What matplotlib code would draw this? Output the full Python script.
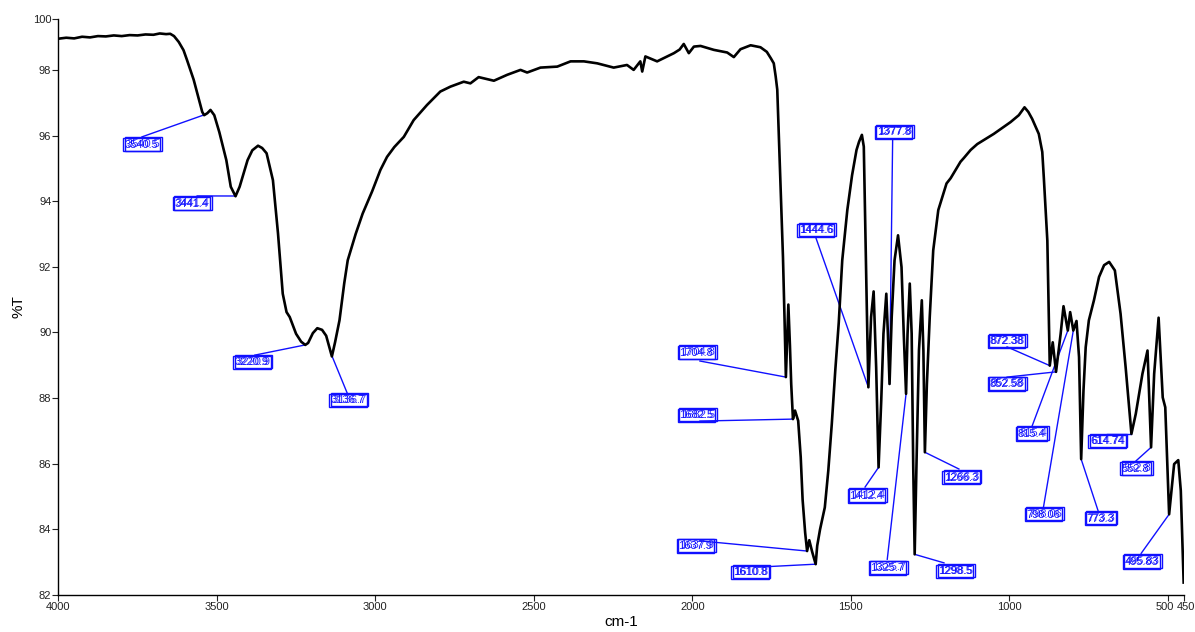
import numpy as np
import matplotlib
matplotlib.use("Agg")
import matplotlib.pyplot as plt
from matplotlib.transforms import offset_copy, ScaledTranslation

plt.rcParams['font.family'] = ['Liberation Sans', 'DejaVu Sans']

# IR spectrum (wavenumber cm-1, %T)
wavenumber = [
    4000, 3975, 3950, 3925, 3900, 3875, 3850, 3825, 3800, 3775, 3750, 3725, 3700,
    3680, 3660, 3647, 3635, 3620, 3605, 3594, 3573, 3555, 3546, 3540, 3530, 3520,
    3508, 3492, 3470, 3456, 3441, 3428, 3403, 3388, 3370, 3357, 3343, 3323, 3307,
    3292, 3280, 3270, 3250, 3234, 3221, 3212, 3197, 3183, 3168, 3155, 3137, 3127,
    3113, 3098, 3087, 3062, 3040, 3010, 2984, 2963, 2940, 2910, 2879, 2837, 2795,
    2763, 2721, 2700, 2674, 2626, 2584, 2542, 2521, 2479, 2426, 2384, 2342, 2300,
    2248, 2206, 2185, 2164, 2158, 2148, 2111, 2058, 2040, 2027, 2011, 1995, 1974,
    1932, 1890, 1869, 1848, 1816, 1785, 1765, 1752, 1743, 1737, 1732, 1727, 1720,
    1714, 1709, 1704.8, 1700, 1697, 1692, 1688, 1682.5, 1676, 1666, 1658, 1652,
    1644, 1637.9, 1631, 1622, 1610.8, 1606, 1597, 1582, 1571, 1560, 1549, 1538,
    1527, 1511, 1496, 1482, 1474, 1465, 1459, 1454, 1450, 1444.6, 1436, 1428,
    1420, 1412.4, 1404, 1397, 1388, 1383, 1377.8, 1371, 1362, 1351, 1340, 1333,
    1325.7, 1321, 1314, 1308, 1303, 1298.5, 1293, 1285, 1276, 1271, 1266.3, 1260,
    1251, 1240, 1224, 1198, 1185, 1154, 1143, 1122, 1101, 1049, 996, 970, 952,
    940, 928, 907, 896, 891, 880, 876, 872.38, 863, 852.58, 838, 829, 815.4, 808,
    798.06, 788, 780, 773.3, 766, 759, 749, 733, 717, 701, 685, 667, 649, 633,
    614.74, 601, 580, 564, 552.8, 543, 529, 516, 508, 495.83, 480, 467, 459, 450,
]
transmittance = [
    98.95, 98.98, 98.96, 99.01, 98.99, 99.03, 99.02, 99.05, 99.03, 99.06, 99.05, 99.08, 99.07,
    99.11, 99.09, 99.10, 99.03, 98.85, 98.60, 98.30, 97.70, 97.05, 96.72, 96.62, 96.68, 96.78,
    96.62, 96.10, 95.25, 94.44, 94.15, 94.44, 95.25, 95.55, 95.69, 95.62, 95.46, 94.64, 93.02,
    91.18, 90.62, 90.47, 89.96, 89.72, 89.62, 89.68, 89.98, 90.13, 90.08, 89.90, 89.27, 89.70,
    90.37, 91.50, 92.20, 93.00, 93.62, 94.30, 94.95, 95.35, 95.65, 95.96, 96.47, 96.93, 97.34,
    97.49, 97.64, 97.59, 97.78, 97.67, 97.85, 98.00, 97.92, 98.07, 98.10, 98.26, 98.26, 98.20,
    98.07, 98.15, 98.00, 98.26, 97.95, 98.41, 98.26, 98.51, 98.62, 98.79, 98.51, 98.71, 98.73,
    98.61, 98.53, 98.39, 98.63, 98.75, 98.69, 98.55, 98.35, 98.20, 97.80, 97.40, 96.00, 94.00,
    92.30, 90.40, 88.64, 90.00, 90.85, 89.60, 88.43, 87.36, 87.62, 87.31, 86.20, 84.90,
    83.90, 83.34, 83.67, 83.32, 82.94, 83.50, 84.00, 84.67, 85.79, 87.21, 88.84, 90.30,
    92.20, 93.73, 94.79, 95.56, 95.81, 96.02, 95.66, 93.00, 91.00, 88.33, 90.47, 91.25,
    88.94, 85.89, 87.92, 89.96, 91.18, 89.96, 88.43, 90.47, 92.20, 92.96, 91.99, 89.96,
    88.13, 89.96, 91.49, 89.96, 85.89, 83.24, 85.89, 89.45, 90.98, 89.45, 86.35, 88.43,
    90.47, 92.50, 93.73, 94.54, 94.70, 95.20, 95.32, 95.56, 95.74, 96.05, 96.41, 96.62, 96.86,
    96.72, 96.51, 96.05, 95.50, 94.70, 92.80, 90.76, 88.99, 89.70, 88.80, 89.96, 90.80, 90.06, 90.62,
    90.06, 90.35, 89.25, 86.14, 88.23, 89.55, 90.37, 90.98, 91.69, 92.05, 92.15, 91.89, 90.57, 88.94,
    86.91, 87.52, 88.74, 89.45, 86.50, 88.74, 90.45, 88.02, 87.72, 84.46, 85.99, 86.11, 85.18, 82.38,
]

# peak labels and where their boxes sit
peak_labels = ["3540.5", "3441.4", "3220.9", "3136.7", "1704.8", "1682.5", "1637.9",
               "1610.8", "1444.6", "1377.8", "1412.4", "1325.7", "1298.5", "1266.3",
               "872.38", "852.58", "815.4", "798.06", "773.3", "614.74", "552.8", "495.83"]
label_x = [3737, 3580, 3389, 3086, 1987, 1987, 1990, 1818, 1611, 1365, 1451, 1384,
           1172, 1152, 1009, 1009, 930, 892, 713, 692, 601, 583]
label_y = [95.72, 93.92, 89.09, 87.93, 89.38, 87.47, 83.49, 82.69, 93.11, 96.10, 85.02,
           82.82, 82.72, 85.58, 89.73, 88.43, 86.91, 84.45, 84.33, 86.68, 85.85, 83.01]
line_x = [3736, 3562, 3380, 3089, 1976, 1976, 1976, 1793, 1610, 1368, 1455, 1385,
          1206, 1159, 1007, 1007, 928, 892, 720, 692, 600, 584]
line_y = [95.96, 94.16, 89.31, 88.16, 89.13, 87.30, 83.65, 82.85, 92.88, 95.87, 85.29,
          83.09, 82.98, 85.84, 89.56, 88.64, 87.15, 84.69, 84.57, 86.91, 86.09, 83.27]

x_ticks = [4000, 3500, 3000, 2500, 2000, 1500, 1000, 500, 450]
y_top = 99.55
y_ticks = [82, 84, 86, 88, 90, 92, 94, 96, 98, y_top]
y_tick_labels = ["82", "84", "86", "88", "90", "92", "94", "96", "98", "100"]

blue = "#1010ff"

fig = plt.figure(figsize=(11.95, 6.32), dpi=100)
ax = fig.add_axes([0.0488, 0.0585, 0.9417, 0.9114])

ax.plot(wavenumber, transmittance, color="black", lw=1.9, zorder=3)

wn_asc = np.array(wavenumber)[::-1]
t_asc = np.array(transmittance)[::-1]
shadow = offset_copy(ax.transData, fig=fig, x=1.5, y=0.8, units="dots")
for lab, tx, ty, lx, ly in zip(peak_labels, label_x, label_y, line_x, line_y):
    px = float(lab)
    py = np.interp(px, wn_asc, t_asc)
    ax.plot([lx, px], [ly, py], color=blue, lw=1.0, zorder=2)
    box = dict(boxstyle="square,pad=0.15", fc="none", ec=blue, lw=1.0)
    ax.text(tx, ty, lab, color=blue, fontsize=8, ha="center", va="center",
            bbox=box, zorder=4)
    ax.text(tx, ty, lab, color=blue, fontsize=8, ha="center", va="center",
            bbox=box, transform=shadow, zorder=4, alpha=0.85)

ax.set_xlim(4000, 450)
ax.set_ylim(82, y_top)
ax.set_xticks(x_ticks)
ax.set_xticklabels([str(t) for t in x_ticks])
ax.set_yticks(y_ticks)
ax.set_yticklabels(y_tick_labels)
ax.tick_params(direction="out", length=4, width=0.8, labelsize=8, colors="#222222")
ax.tick_params(axis="x", pad=1)
ax.tick_params(axis="y", pad=1)

# the 500 and 450 labels sit side by side, nudge them apart
xt_labels = ax.get_xticklabels()
xt_labels[-2].set_transform(xt_labels[-2].get_transform()
                            + ScaledTranslation(-3 / 100, 0, fig.dpi_scale_trans))
xt_labels[-1].set_transform(xt_labels[-1].get_transform()
                            + ScaledTranslation(2 / 100, 0, fig.dpi_scale_trans))

for side in ["top", "right"]:
    ax.spines[side].set_visible(False)
for side in ["left", "bottom"]:
    ax.spines[side].set_linewidth(1.0)

ax.set_xlabel("cm-1", fontsize=11, labelpad=2)
ax.set_ylabel("%T", fontsize=11, labelpad=5)

fig.savefig("out.png", dpi=100)
